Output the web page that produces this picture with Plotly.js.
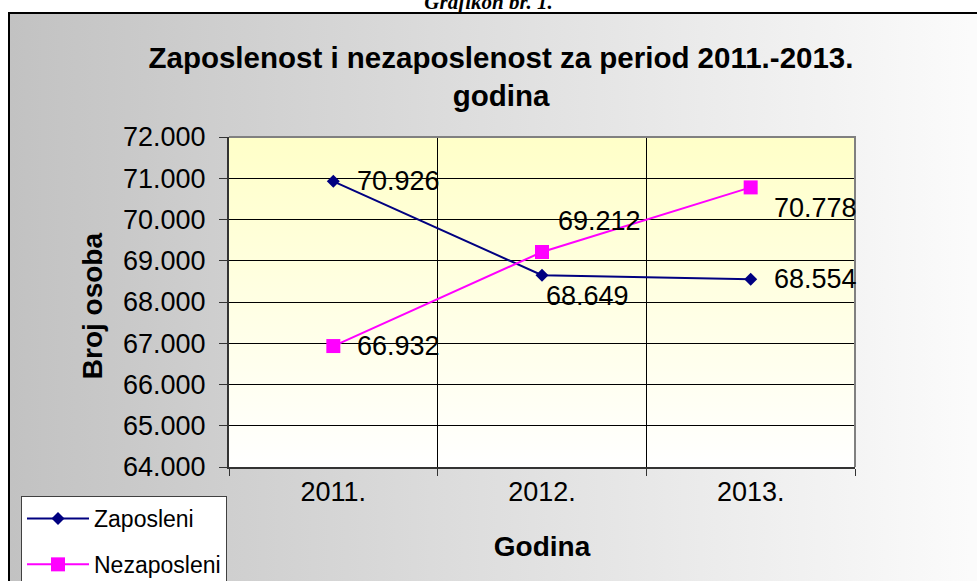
<!DOCTYPE html>
<html>
<head>
<meta charset="utf-8">
<script src="https://cdn.plot.ly/plotly-3.0.1.min.js"></script>
<style>
  html, body { margin: 0; padding: 0; width: 977px; height: 581px; overflow: hidden; background: #ffffff; }
  #frame { position: absolute; left: 8px; top: 12px; width: 1100px; height: 700px;
           border: 2px solid #000; box-sizing: border-box;
           background: linear-gradient(90deg, #c2c2c2 0px, #fbfbfb 960px); }
  #cap { position: absolute; left: 0; width: 977px; top: -8px; text-align: center;
         font: bold italic 21px "Liberation Serif", "DejaVu Serif", serif; line-height: 21px; color: #000; }
  #chart { position: absolute; left: 0; top: 0; width: 977px; height: 581px; }
</style>
</head>
<body>
<div id="frame"></div>
<div id="cap">Grafikon br. 1.</div>
<div id="chart"></div>
<script>
// ---- data ----
const years = ["2011.", "2012.", "2013."];
const zaposleni = [70926, 68649, 68554];
const nezaposleni = [66932, 69212, 70778];
const seriesNames = ["Zaposleni", "Nezaposleni"];
const yTickVals = [64000, 65000, 66000, 67000, 68000, 69000, 70000, 71000, 72000];
const yTitle = "Broj osoba";
const xTitle = "Godina";

// ---- style (label offsets in px) ----
const zapShift = [[22, 0], [2, -21], [21, 0]];
const nezShift = [[22, 0], [14, 31], [21, -21]];

const fmt = v => String(v).replace(/\B(?=(\d{3})+(?!\d))/g, ".");
const FONT = '"Liberation Sans", Arial, sans-serif';

const traces = [
  {
    x: years, y: zaposleni, name: seriesNames[0], type: "scatter", mode: "lines+markers",
    line: { color: "#000080", width: 2 },
    marker: { symbol: "diamond", size: 10, color: "#000080" },
    legendgroup: "a"
  },
  {
    x: years, y: nezaposleni, name: seriesNames[1], type: "scatter", mode: "lines+markers",
    line: { color: "#ff00ff", width: 2 },
    marker: { symbol: "square", size: 14, color: "#ff00ff" },
    legendgroup: "b"
  }
];

const labelList = [];
function addLabels(vals, shifts) {
  vals.forEach((v, i) => labelList.push({
    x: i, y: v, xref: "x", yref: "y", text: fmt(v), showarrow: false,
    xanchor: "left", yanchor: "middle", xshift: shifts[i][0], yshift: shifts[i][1],
    font: { family: FONT, size: 27, color: "#000000" }
  }));
}
addLabels(zaposleni, zapShift);
addLabels(nezaposleni, nezShift);
// y-axis title as rotated annotation
labelList.push({
  xref: "paper", yref: "paper", x: -0.219, y: 0.49, text: "<b>" + yTitle + "</b>",
  textangle: -90, showarrow: false, xanchor: "center", yanchor: "middle",
  font: { family: FONT, size: 28, color: "#000" }
});

const grad = '<svg xmlns="http://www.w3.org/2000/svg" width="100" height="100" preserveAspectRatio="none">' +
  '<defs><linearGradient id="g" x1="0" y1="0" x2="0" y2="1">' +
  '<stop offset="0" stop-color="#ffffc8"/><stop offset="1" stop-color="#ffffff"/></linearGradient></defs>' +
  '<rect width="100" height="100" fill="url(#g)"/></svg>';

const layout = {
  width: 977, height: 581,
  margin: { l: 229, r: 122, t: 137, b: 114, pad: 0, autoexpand: false },
  paper_bgcolor: "rgba(0,0,0,0)",
  plot_bgcolor: "rgba(0,0,0,0)",
  separators: ",.",
  font: { family: FONT, color: "#000" },
  showlegend: true,
  title: {
    text: "<b>Zaposlenost i nezaposlenost za period 2011.-2013.<br>godina</b>",
    font: { family: FONT, size: 29.5, color: "#000" },
    x: 0.4345, xref: "paper", xanchor: "center",
    y: 1 - 68 / 581, yref: "container", yanchor: "top"
  },
  xaxis: {
    type: "category", range: [-0.5, 2.5], tickson: "boundaries",
    showgrid: true, gridcolor: "#000", gridwidth: 1,
    showline: true, linecolor: "#333", linewidth: 2,
    ticks: "outside", ticklen: 7, tickcolor: "#333", tickwidth: 1,
    tickfont: { family: FONT, size: 27, color: "#000" },
    title: { text: "<b>" + xTitle + "</b>", font: { family: FONT, size: 28, color: "#000" }, standoff: 30 },
    automargin: true, fixedrange: true
  },
  yaxis: {
    range: [64000, 72000], tickvals: yTickVals, tickformat: ",d",
    showgrid: true, gridcolor: "#000", gridwidth: 1,
    showline: true, linecolor: "#333", linewidth: 2,
    ticks: "outside", ticklen: 8, tickcolor: "#333", tickwidth: 1,
    ticklabelstandoff: 8,
    tickfont: { family: FONT, size: 27, color: "#000" },
    zeroline: false, fixedrange: true
  },
  legend: {
    xref: "container", yref: "container",
    x: 21 / 977, y: 1 - 496 / 581, xanchor: "left", yanchor: "top",
    bgcolor: "#ffffff", bordercolor: "#404040", borderwidth: 1,
    font: { family: FONT, size: 23, color: "#000" },
    itemwidth: 62,
    traceorder: "grouped", tracegroupgap: 13
  },
  images: [{
    source: "data:image/svg+xml;charset=utf-8," + encodeURIComponent(grad),
    xref: "paper", yref: "paper", x: 0, y: 1, sizex: 1, sizey: 1,
    xanchor: "left", yanchor: "top", sizing: "stretch", layer: "below"
  }],
  shapes: [{
    type: "path", xref: "paper", yref: "paper", path: "M0,1 L1,1 L1,0",
    line: { color: "#808080", width: 2 }, layer: "above"
  }],
  annotations: labelList
};

Plotly.newPlot("chart", traces, layout, { displayModeBar: false, staticPlot: true });
</script>
</body>
</html>
